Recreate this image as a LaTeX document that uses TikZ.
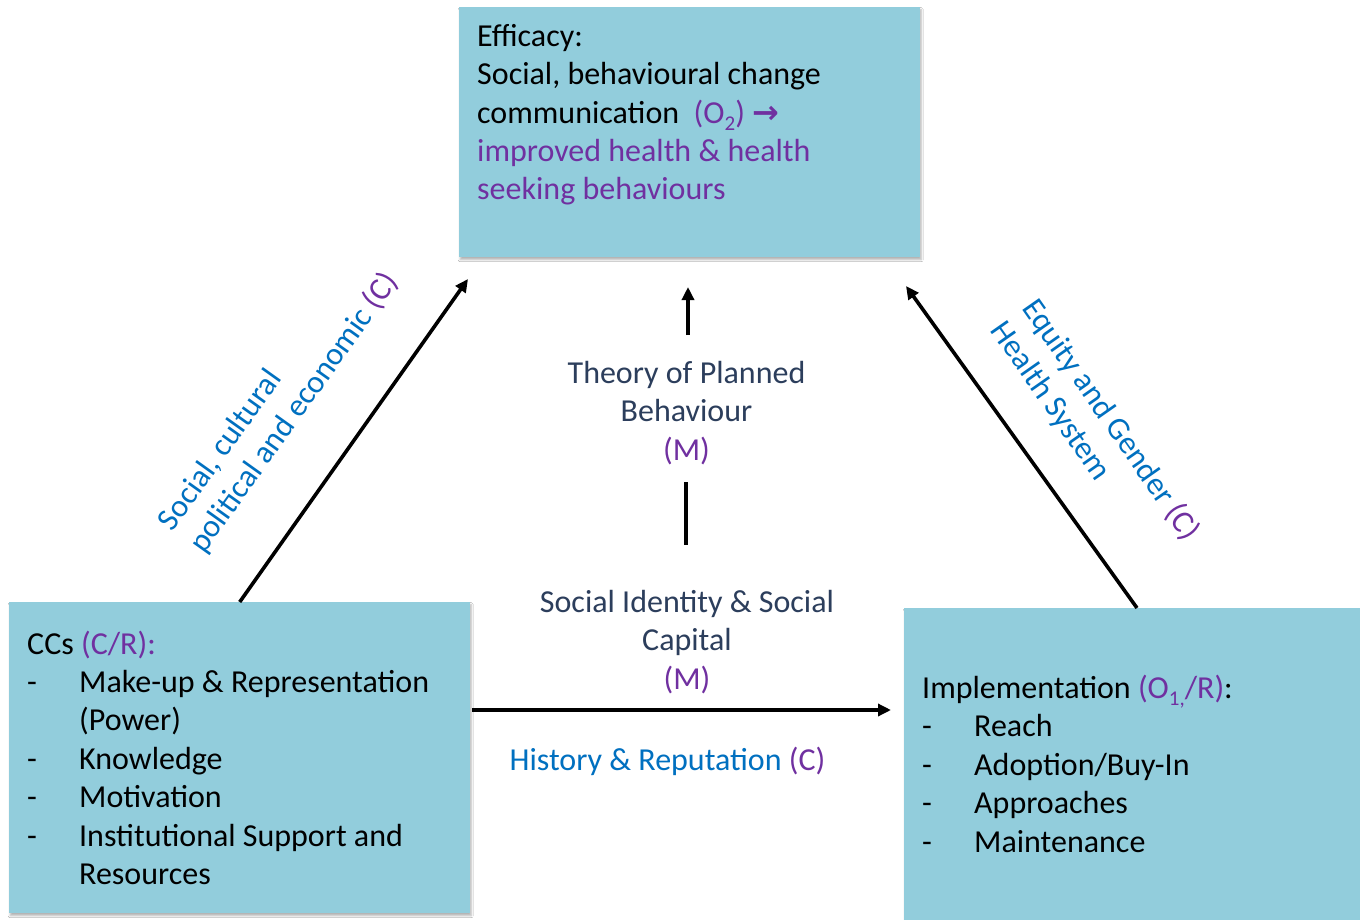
\documentclass[tikz,border=0pt]{standalone}
\usepackage{fontspec}
\setmainfont{Carlito}
\newfontfamily\symfont{DejaVu Sans}
\usetikzlibrary{arrows.meta,shadows.blur}

\definecolor{boxfill}{RGB}{146,205,220}
\definecolor{vio}{RGB}{112,48,160}
\definecolor{ctxblue}{RGB}{0,112,192}
\definecolor{mechtxt}{RGB}{44,62,92}

% lowered, smaller index digits such as the 2 in O2
\newcommand{\lowsub}[1]{\raisebox{-0.22em}{\fontsize{21}{21}\selectfont #1}}
% dash bullet with a hanging indent
\newcommand{\dashitem}{\makebox[52pt][l]{-}}
\newcommand{\hangpad}{\hspace*{52pt}}

\tikzset{
  panel/.style={fill=boxfill, draw=none, inner sep=0pt, anchor=north west,
    blur shadow={shadow xshift=1pt, shadow yshift=-2.5pt, shadow opacity=30,
      shadow blur steps=6, shadow blur radius=2pt}},
  txt/.style={font=\fontsize{32}{38.4}\selectfont, inner sep=0pt, align=left},
  mech/.style={txt, align=center, text=mechtxt, anchor=base},
  ctx/.style={txt, text=ctxblue},
  link/.style={line width=3.6pt, draw=black},
  arr/.style={link, -{Triangle[length=13pt,width=12pt]}}
}

\begin{document}
\begin{tikzpicture}[x=1pt,y=-1pt]
\useasboundingbox (0,0) rectangle (1360,920);
\fill[white] (0,0) rectangle (1360,920);

% the three panels
\node[panel, minimum width=461pt, minimum height=250pt] (eff) at (459,7) {};
\node[panel, minimum width=461pt, minimum height=311pt] (ccs) at (9,602) {};
\node[panel, minimum width=456pt, minimum height=312pt] (impl) at (904,608) {};

% panel texts (multi-line nodes sit on the baseline of their last line)
\node[txt, anchor=base west] (efftext) at (477,200)
  {Efficacy:\\
   Social, behavioural change\\
   communication\ \ {\color{vio}(O\lowsub{2}) {\symfont\bfseries →}}\\
   {\color{vio}improved health \& health}\\
   {\color{vio}seeking behaviours}};

\node[txt, anchor=base west] (ccstext) at (27,884.5)
  {CCs {\color{vio}(C/R):}\\
   \dashitem Make-up \& Representation\\
   \hangpad(Power)\\
   \dashitem Knowledge\\
   \dashitem Motivation\\
   \dashitem Institutional Support and\\
   \hangpad Resources};

\node[txt, anchor=base west] (impltext) at (922,852)
  {Implementation {\color{vio}(O\lowsub{1,}/R)}:\\
   \dashitem Reach\\
   \dashitem Adoption/Buy-In\\
   \dashitem Approaches\\
   \dashitem Maintenance};

% mechanism and context labels
\node[mech] (tpb) at (686.5,460.3)
  {Theory of Planned\\Behaviour\\{\color{vio}(M)}};
\node[mech] (sid) at (687,689.3)
  {Social Identity \& Social\\Capital\\{\color{vio}(M)}};
\node[ctx, anchor=base] (hist) at (667.5,770.5)
  {History \& Reputation {\color{vio}(C)}};
\node[ctx, rotate=54.5] (scpe) at (279,402)
  {Social, cultural\\political and economic {\color{vio}(C)}};
\node[ctx, rotate=-55] (eqg) at (1095,431)
  {Equity and Gender {\color{vio}(C)}\\Health System};

% connectors
\coordinate (tipL) at (468,279);
\coordinate (tipR) at (906,286);
\coordinate (implTop) at (1137,608);
\coordinate (hStart) at (472,710);
\coordinate (hEnd) at (891,710);
\coordinate (vLow1) at (686,482);
\coordinate (vLow2) at (686,545);
\coordinate (vUp1) at (688,335);
\coordinate (vUp2) at (688,287);

\draw[arr] (ccs.north) -- (tipL);
\draw[arr] (implTop) -- (tipR);
\draw[arr] (hStart) -- (hEnd);
\draw[link] (vLow1) -- (vLow2);
\draw[arr] (vUp1) -- (vUp2);
\end{tikzpicture}
\end{document}
